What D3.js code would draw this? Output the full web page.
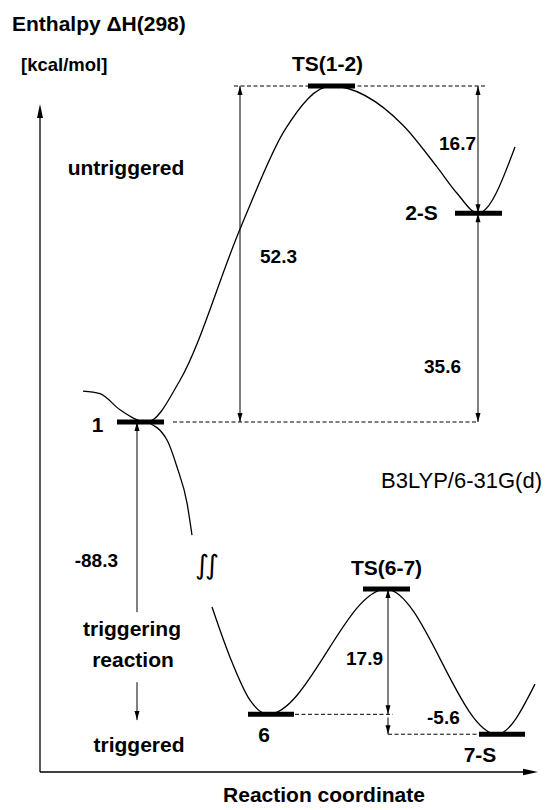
<!DOCTYPE html>
<html>
<head>
<meta charset="utf-8">
<script src="https://cdn.jsdelivr.net/npm/d3@7"></script>
<style>
	body { margin: 0; background: #fff; }
	text { font-family: 'Liberation Sans', Arial, sans-serif; font-weight: bold; fill: #000; }
</style>
</head>
<body>
<svg id="chart" width="545" height="810"></svg>
<script>
// Energy levels: name, reaction coordinate span, plotted enthalpy (diagram is not to scale below the break)
const levelNames = ['1', 'TS(1-2)', '2-S', '6', 'TS(6-7)', '7-S']
const levelSpan = [[15.4, 24.8], [53.6, 63.0], [83.0, 92.4], [41.6, 50.8], [64.6, 74.0], [87.8, 97.0]]
const levelPlot = [0, 52.3, 32.5, -45.5, -26.0, -48.6]

// Reaction profile (reaction coordinate, plotted enthalpy)
const upperCurve = [[8.6, 4.8], [12.0, 4.4], [16.0, 1.9], [21.4, 0], [28.0, 6.5], [40.2, 30.4], [49.0, 45.5],
	[58.2, 52.3], [72.6, 46.2], [79.4, 39.7], [83.4, 35.6], [87.6, 32.5], [95.0, 42.8]]
const triggerCurve = [[21.4, 0], [25.4, -2.8], [27.4, -7.0], [29.4, -12.6], [30.4, -17.6]]
const lowerCurve = [[34.4, -28.8], [38.0, -36.6], [42.0, -43.3], [45.6, -45.5], [69.2, -26.0],
	[91.4, -48.6], [99.0, -40.8]]

// Dashed reference lines: level value and reaction coordinate span
const dashLevel = [0, 52.3, -45.5, -48.6]
const dashSpan = [[26.6, 87.6], [38.8, 89.0], [51.0, 70.6], [69.6, 87.8]]

// Enthalpy differences and their arrows
const gapLabels = ['52.3', '16.7', '35.6', '-88.3', '17.9', '-5.6']
const gapX = [40.0, 87.6, 87.6, 19.4, 69.6, 69.6]
const gapFrom = [0, 52.3, 32.5, -29.6, -26.0, -46.0]
const gapTo = [52.3, 32.5, 0, 0, -45.5, -48.6]
const gapHeads = ['both', 'both', 'both', 'end', 'both', 'end']

//Grab the svg and set up scales
const svg = d3.select('#chart')
const x = d3.scaleLinear().domain([0, 100]).range([40, 540])
const y = d3.scaleLinear().domain([0, 52.3]).range([422, 86])

const curve = d3.line().x(d => x(d[0])).y(d => y(d[1])).curve(d3.curveMonotoneX)

//Draws a filled arrow head with its tip at (px, py); dir 1 points down, -1 up, 'r' right
function head(px, py, dir, len = 9, hw = 2.5) {
	let p
	if (dir === 'r') p = [[px, py], [px - len, py - hw], [px - len, py + hw]]
	else p = [[px, py], [px - hw, py - dir * len], [px + hw, py - dir * len]]
	svg.append('path').attr('d', 'M' + p.join('L') + 'Z').attr('fill', '#000')
}

//Vertical arrow between two plotted values
function arrow(xv, a, b, heads) {
	const px = x(xv), ya = y(a), yb = y(b)
	svg.append('line').attr('x1', px).attr('x2', px).attr('y1', ya).attr('y2', yb)
		.attr('stroke', '#000').attr('stroke-width', 1)
	const dirB = yb > ya ? 1 : -1
	head(px, yb, dirB)
	if (heads === 'both') head(px, ya, -dirB)
}

//Axes
svg.append('line').attr('x1', 40).attr('y1', 772).attr('x2', 40).attr('y2', 110)
	.attr('stroke', '#000').attr('stroke-width', 1.3)
head(40, 104, -1, 14, 3)
svg.append('line').attr('x1', 40).attr('y1', 772).attr('x2', 530).attr('y2', 772)
	.attr('stroke', '#000').attr('stroke-width', 1.3)
head(538, 772, 'r', 15, 3.3)

//Profile curves
;[upperCurve, triggerCurve, lowerCurve].forEach(c => {
	svg.append('path').attr('d', curve(c)).attr('fill', 'none').attr('stroke', '#000').attr('stroke-width', 1.3)
})

//Break sign on the trigger branch
svg.append('text').attr('x', 205).attr('y', 564).attr('text-anchor', 'middle').attr('dominant-baseline', 'central')
	.style('font-family', 'DejaVu Sans').style('font-weight', 'normal').style('font-size', '27px')
	.style('letter-spacing', '-4px').text('∫∫')

//Dashed lines
dashLevel.forEach((v, i) => {
	svg.append('line').attr('x1', x(dashSpan[i][0])).attr('x2', x(dashSpan[i][1])).attr('y1', y(v)).attr('y2', y(v))
		.attr('stroke', '#000').attr('stroke-width', 1).attr('stroke-dasharray', '4,2.5')
})

//Gap arrows
gapLabels.forEach((_, i) => arrow(gapX[i], gapFrom[i], gapTo[i], gapHeads[i]))
arrow(19.4, -40.5, -46.4, 'end')

//Energy level bars
levelNames.forEach((n, i) => {
	svg.append('line').attr('x1', x(levelSpan[i][0])).attr('x2', x(levelSpan[i][1]))
		.attr('y1', y(levelPlot[i])).attr('y2', y(levelPlot[i])).attr('stroke', '#000').attr('stroke-width', 5)
})

//Level labels, offset from the bar centre
const levelLabelOffset = [[-43, 10], [-4, -15], [-57, 7], [-7, 28], [0, -14], [-22, 28]]
levelNames.forEach((n, i) => {
	const cx = x((levelSpan[i][0] + levelSpan[i][1]) / 2)
	svg.append('text').attr('x', cx + levelLabelOffset[i][0]).attr('y', y(levelPlot[i]) + levelLabelOffset[i][1])
		.attr('text-anchor', 'middle').style('font-size', '21px').text(n)
})

//Gap labels, offset from the arrow midpoint
const gapLabelOffset = [[20, 9, 'start'], [-2, 0, 'end'], [-17, 55, 'end'], [-19, 50, 'end'], [-5, 13, 'end'], [39, -2, 'start']]
gapLabels.forEach((t, i) => {
	const mid = (y(gapFrom[i]) + y(gapTo[i])) / 2
	svg.append('text').attr('x', x(gapX[i]) + gapLabelOffset[i][0]).attr('y', mid + gapLabelOffset[i][1])
		.attr('text-anchor', gapLabelOffset[i][2]).style('font-size', '19px').text(t)
})

//Free text
function label(t, px, py, size, anchor = 'start', weight = 'bold') {
	svg.append('text').attr('x', px).attr('y', py).attr('text-anchor', anchor)
		.style('font-size', size + 'px').style('font-weight', weight).text(t)
}
label('Enthalpy ΔH(298)', 12, 31, 21)
label('[kcal/mol]', 21, 71, 18.5)
label('untriggered', 126, 175, 21, 'middle')
label('triggering', 132, 636, 21, 'middle')
label('reaction', 133, 667, 21, 'middle')
label('triggered', 139, 752, 21, 'middle')
label('B3LYP/6-31G(d)', 542, 488, 22, 'end', 'normal')
label('Reaction coordinate', 324, 802, 21, 'middle')
</script>
</body>
</html>
